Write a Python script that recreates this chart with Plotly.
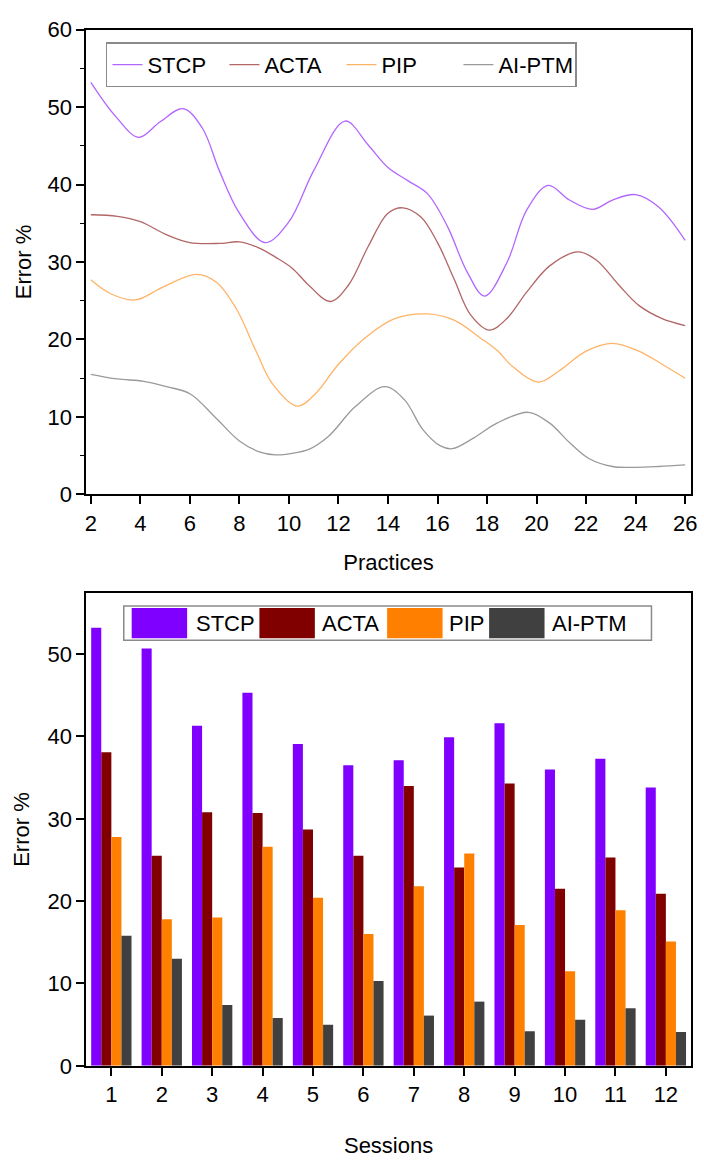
import plotly.graph_objects as go

W, H = 704, 1162

series = ["STCP", "ACTA", "PIP", "AI-PTM"]
line_colors = ["#B366FF", "#B36666", "#FFB366", "#9A9A9A"]
bar_colors = ["#8000FF", "#800000", "#FF8000", "#404040"]

# ---- top chart: Error % vs Practices ----
stcp_x = [2, 3, 3.93, 4.8, 5.73, 6.5, 7.2, 8, 9.04, 10, 11, 12.27, 13.2, 14, 14.8,
          15.6, 16.4, 17.2, 17.9, 18.8, 19.6, 20.47, 21.33, 22.27, 23.07, 24, 24.93, 26]
stcp_y = [53.2, 48.8, 46.1, 48.1, 49.8, 47.3, 41.7, 36.3, 32.5, 35.2, 41.8, 48.2, 45.1, 42.2, 40.5,
          38.8, 34.6, 28.7, 25.6, 29.9, 36.7, 39.9, 38.0, 36.8, 38.0, 38.7, 37.1, 32.8]

acta_x = [2, 3.07, 4, 5.07, 6, 7.2, 8, 8.8, 9.47, 10.13, 10.8, 11.67, 12.4, 13.2, 14, 14.6, 15.33,
          16, 16.67, 17.33, 18.1, 18.8, 19.6, 20.53, 21.67, 22.4, 23.33, 24.13, 25.07, 26]
acta_y = [36.1, 35.9, 35.2, 33.5, 32.5, 32.4, 32.6, 31.8, 30.6, 29.2, 27.0, 24.9, 27.0, 32.0, 36.3, 37.0, 35.8,
          32.5, 27.8, 23.2, 21.2, 22.7, 26.1, 29.5, 31.3, 30.3, 27.0, 24.4, 22.7, 21.8]

pip_x = [2, 2.8, 3.8, 4.93, 6.27, 7.07, 7.87, 8.67, 9.33, 10.33, 11.07, 12, 13.07, 14.27, 15.6, 16.67,
         17.73, 18.4, 19.07, 20.07, 20.93, 22, 23.07, 24.13, 25.07, 26]
pip_y = [27.7, 25.9, 25.1, 26.8, 28.4, 27.4, 24.0, 18.5, 14.3, 11.4, 13.0, 16.8, 20.2, 22.7, 23.3, 22.5,
         20.2, 18.6, 16.4, 14.5, 16.0, 18.5, 19.5, 18.5, 16.8, 15.0]

ai_x = [2, 3.07, 4.13, 5.07, 6, 7.07, 8, 8.8, 9.47, 10.13, 10.8, 11.6, 12.67, 13.87, 14.67, 15.4, 16.1,
        16.6, 17.47, 18.4, 19.67, 20.53, 21.33, 22.13, 23.07, 24, 24.93, 26]
ai_y = [15.5, 14.9, 14.6, 13.9, 13.0, 9.8, 6.9, 5.5, 5.1, 5.3, 5.8, 7.5, 11.3, 13.9, 12.2, 8.4, 6.3,
        5.9, 7.3, 9.2, 10.6, 9.2, 6.7, 4.6, 3.6, 3.5, 3.6, 3.8]

# ---- bottom chart: Error % per session ----
sessions = [1, 2, 3, 4, 5, 6, 7, 8, 9, 10, 11, 12]
stcp_bar = [53.2, 50.7, 41.3, 45.3, 39.1, 36.5, 37.1, 39.9, 41.6, 36.0, 37.3, 33.8]
acta_bar = [38.1, 25.5, 30.8, 30.7, 28.7, 25.5, 34.0, 24.1, 34.3, 21.5, 25.3, 20.9]
pip_bar = [27.8, 17.8, 18.0, 26.6, 20.4, 16.0, 21.8, 25.8, 17.1, 11.5, 18.9, 15.1]
ai_bar = [15.8, 13.0, 7.4, 5.8, 5.0, 10.3, 6.1, 7.8, 4.2, 5.6, 7.0, 4.1]

line_xs = [stcp_x, acta_x, pip_x, ai_x]
line_ys = [stcp_y, acta_y, pip_y, ai_y]
bar_vals = [stcp_bar, acta_bar, pip_bar, ai_bar]

FONT = "Liberation Sans, Arial, sans-serif"

fig = go.Figure()
for name, xs, ys, c in zip(series, line_xs, line_ys, line_colors):
    fig.add_trace(go.Scatter(x=xs, y=ys, name=name, mode="lines",
                             line=dict(color=c, width=1.3, shape="spline", smoothing=1.0),
                             xaxis="x", yaxis="y", legend="legend"))

for name, vals, c in zip(series, bar_vals, bar_colors):
    fig.add_trace(go.Bar(x=sessions, y=vals, name=name, marker=dict(color=c, line=dict(width=0)),
                         xaxis="x2", yaxis="y2", showlegend=False))

def px_x(p):
    return p / W

def px_y(p):
    return 1 - p / H

axis_common = dict(showline=True, linecolor="black", linewidth=1.5, mirror=True,
                   ticks="outside", ticklen=8, tickwidth=1.5, tickcolor="black",
                   showgrid=False, zeroline=False,
                   tickfont=dict(family=FONT, size=22, color="black"),
                   title_font=dict(family=FONT, size=22, color="black"))

fig.update_layout(
    width=W, height=H,
    margin=dict(l=0, r=0, t=0, b=0),
    paper_bgcolor="white", plot_bgcolor="white",
    font=dict(family=FONT, size=22, color="black"),
    barmode="group", bargap=0.2, bargroupgap=0,
    xaxis=dict(domain=[px_x(86), px_x(697)], range=[1.81, 26.24], tickvals=list(range(2, 27, 2)),
               title=dict(text="Practices", standoff=20), anchor="y", **axis_common),
    yaxis=dict(domain=[px_y(493), px_y(18)], range=[0, 60], dtick=10,
               minor=dict(dtick=5, ticks="outside", ticklen=4, tickcolor="black", tickwidth=1.2),
               title=dict(text="Error %", standoff=10), anchor="x", **axis_common),
    xaxis2=dict(domain=[px_x(86), px_x(697)], range=[0.5, 12.5], tickvals=sessions,
                title=dict(text="Sessions", standoff=32), anchor="y2", **axis_common),
    yaxis2=dict(domain=[px_y(1077), px_y(594)], range=[0, 57.4], tickvals=[0, 10, 20, 30, 40, 50],
                title=dict(text="Error %", standoff=12), anchor="x2", **axis_common),
    legend=dict(orientation="h", x=px_x(106), y=px_y(31), xanchor="left", yanchor="top",
                bgcolor="white", bordercolor="#8a8a8a", borderwidth=1.5,
                font=dict(family=FONT, size=22, color="black"),
                entrywidth=72, entrywidthmode="pixels", tracegroupgap=0),
)

# manual legend for the bar chart (large swatches as in the reference)
shapes = [dict(type="rect", xref="paper", yref="paper",
               x0=px_x(124), x1=px_x(657), y0=px_y(642), y1=px_y(607),
               line=dict(color="#8a8a8a", width=1.5), fillcolor="white", layer="above")]
sw_left = [132, 261, 390, 493]
sw_w = 56
txt_left = [195, 322, 450, 555]
annotations = []
for name, c, sl, tl in zip(series, bar_colors, sw_left, txt_left):
    shapes.append(dict(type="rect", xref="paper", yref="paper",
                       x0=px_x(sl), x1=px_x(sl + sw_w), y0=px_y(640), y1=px_y(609),
                       line=dict(width=0), fillcolor=c, layer="above"))
    annotations.append(dict(xref="paper", yref="paper", x=px_x(tl), y=px_y(625),
                            xanchor="left", yanchor="middle", text=name, showarrow=False,
                            font=dict(family=FONT, size=22, color="black")))
fig.update_layout(shapes=shapes, annotations=annotations)

fig.write_html("out.html")
